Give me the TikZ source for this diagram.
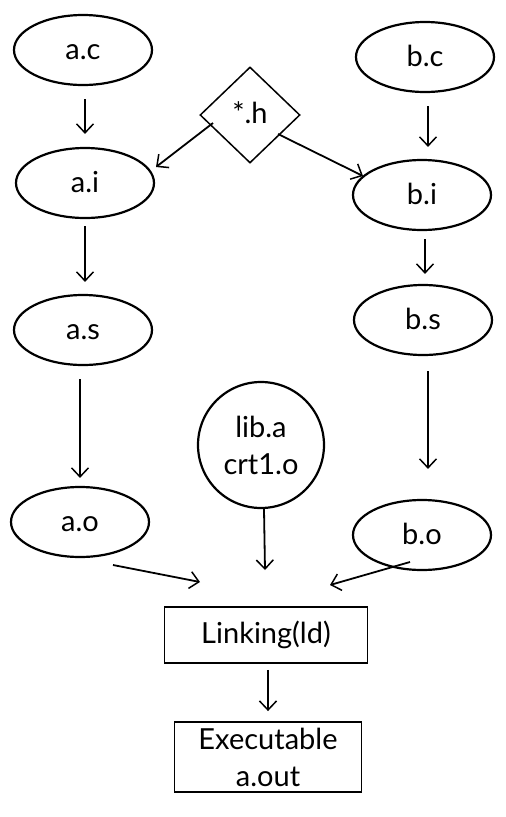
\documentclass[tikz,border=0pt]{standalone}
\usepackage{fontspec}
\setmainfont{Lato}
\usetikzlibrary{shapes.geometric,arrows.meta,calc}
\newcommand{\ovtxt}[1]{\smash{\raisebox{-9pt}{#1}}}
\begin{document}
\begin{tikzpicture}[x=1pt,y=-1pt,
  every node/.style={font=\fontsize{29}{37}\selectfont},
  oval/.style={draw,ellipse,line width=2.2pt,minimum width=138pt,minimum height=70pt,inner sep=0pt},
  box/.style={draw,rectangle,line width=1.9pt,inner sep=0pt,align=center},
  arr/.style={line width=1.8pt,-{Straight Barb[length=9pt,width=17pt,line width=1.5pt]}}]
\useasboundingbox (0,0) rectangle (506,817);
\node[oval] (ac) at (83,50) {\ovtxt{a.c}};
\node[oval] (bc) at (425,57) {\ovtxt{b.c}};
\node[draw,diamond,line width=1.5pt,minimum width=100pt,minimum height=96pt,inner sep=0pt] (h) at (250,115) {\smash{\raisebox{-8pt}{*.h}}};
\node[oval] (ai) at (85,183) {\ovtxt{a.i}};
\node[oval] (bi) at (422,195) {\ovtxt{b.i}};
\node[oval] (as) at (83,330) {\ovtxt{a.s}};
\node[oval] (bs) at (423,320) {\ovtxt{b.s}};
\node[draw,circle,line width=2.2pt,minimum size=126pt,inner sep=0pt,align=center] (lib) at (261,445) {lib.a\\crt1.o};
\node[oval] (ao) at (80,522) {\ovtxt{a.o}};
\node[oval] (bo) at (422,535) {\ovtxt{b.o}};
\node[box,minimum width=203pt,minimum height=56pt] (lk) at (266,635) {Linking(ld)};
\node[box,minimum width=187pt,minimum height=70pt] (ex) at (268,757) {Executable\\a.out};
\coordinate (lkA) at ($(lk)+(-66,-53)$);
\coordinate (lkB) at ($(lk)+(-1,-65)$);
\coordinate (lkC) at ($(lk)+(64,-50)$);
\draw[arr] ($(ac.south)+(2,13)$) -- ($(ai.north)+(0,-13)$);
\draw[arr] ($(bc.south)+(3,13)$) -- ($(bi.north)+(6,-12)$);
\draw[arr] ($(h)+(-37,8)$) -- ($(ai)+(71,-16)$);
\draw[arr] ($(h)+(28,19)$) -- ($(bi)+(-59,-19)$);
\draw[arr] ($(ai.south)+(0,7)$) -- ($(as.north)+(2,-12)$);
\draw[arr] ($(bi.south)+(3,8)$) -- ($(bs.north)+(2,-10)$);
\draw[arr] ($(as.south)+(-3,13)$) -- ($(ao.north)+(0,-8)$);
\draw[arr] ($(bs.south)+(5,15)$) -- ($(bo.north)+(6,-30)$);
\draw[arr] ($(ao)+(33,43)$) -- (lkA);
\draw[arr] ($(lib.south)+(3,0)$) -- (lkB);
\draw[arr] ($(bo)+(-12,27)$) -- (lkC);
\draw[arr] ($(lk.south)+(2,6)$) -- ($(ex.north)+(0,-10)$);
\end{tikzpicture}
\end{document}
